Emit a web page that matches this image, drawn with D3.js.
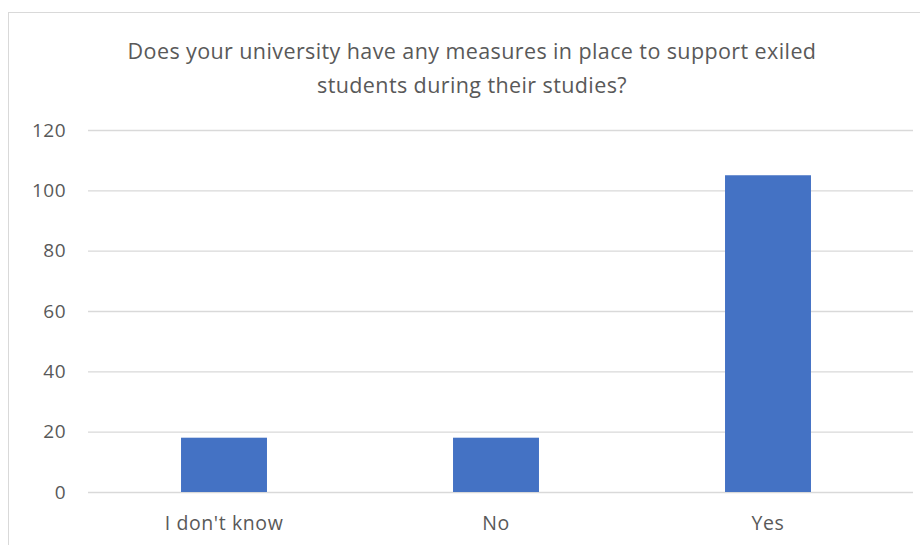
<!DOCTYPE html>
<html>
<head>
<meta charset="utf-8">
<script src="https://cdn.jsdelivr.net/npm/d3@7"></script>
<style>
  html, body { margin: 0; padding: 0; background: #fff; }
  svg { display: block; font-family: "Open Sans", "Noto Sans", sans-serif; }
</style>
</head>
<body>
<svg id="chart" width="920" height="545"></svg>
<script>
// Survey answers and their counts
const categories = ["I don't know", "No", "Yes"];
const counts = [18, 18, 105];
const yTicks = [0, 20, 40, 60, 80, 100, 120];
const titleLines = [
  "Does your university have any measures in place to support exiled",
  "students during their studies?"
];

const svg = d3.select("#chart");
const plot = { left: 88, right: 904, top: 130, bottom: 492 };
const FONT = "\"Open Sans\", \"Noto Sans\", sans-serif";

// Outer chart frame
svg.append("rect")
  .attr("x", 8.5).attr("y", 12.5)
  .attr("width", 940).attr("height", 560)
  .attr("fill", "#fff")
  .attr("stroke", "#d9d9d9")
  .attr("stroke-width", 1);

// Title
svg.append("g").selectAll("text")
  .data(titleLines)
  .join("text")
  .attr("x", 472)
  .attr("y", (d, i) => 59 + i * 34)
  .attr("text-anchor", "middle")
  .attr("fill", "#595959")
  .attr("font-size", 21.5)
  .attr("letter-spacing", 0.4)
  .text(d => d);

const x = d3.scaleBand()
  .domain(categories)
  .range([plot.left, plot.right])
  .paddingInner(0.684)
  .paddingOuter(0.342);

const y = d3.scaleLinear()
  .domain([0, 120])
  .range([plot.bottom, plot.top]);

// Gridlines and value labels
const yAxis = d3.axisLeft(y)
  .tickValues(yTicks)
  .tickSize(-(plot.right - plot.left + 9))
  .tickPadding(22);

svg.append("g")
  .attr("transform", `translate(${plot.left},0)`)
  .call(yAxis)
  .call(g => g.select(".domain").remove())
  .call(g => g.selectAll(".tick line").attr("stroke", "#d9d9d9").attr("stroke-width", 1.3))
  .call(g => g.selectAll(".tick text")
    .attr("fill", "#595959")
    .attr("font-size", 19)
    .attr("letter-spacing", 0.5)
    .attr("font-family", FONT));

// Bars
svg.append("g").selectAll("rect")
  .data(categories.map((c, i) => ({ c, v: counts[i] })))
  .join("rect")
  .attr("x", d => x(d.c))
  .attr("y", d => y(d.v))
  .attr("width", x.bandwidth())
  .attr("height", d => y(0) - y(d.v))
  .attr("fill", "#4472c4");

// Category labels
const xAxis = d3.axisBottom(x).tickSize(0).tickPadding(24);
svg.append("g")
  .attr("transform", `translate(0,${plot.bottom})`)
  .call(xAxis)
  .call(g => g.select(".domain").remove())
  .call(g => g.selectAll(".tick text")
    .attr("fill", "#595959")
    .attr("font-size", 19.5)
    .attr("letter-spacing", 0.6)
    .attr("font-family", FONT));
</script>
</body>
</html>
